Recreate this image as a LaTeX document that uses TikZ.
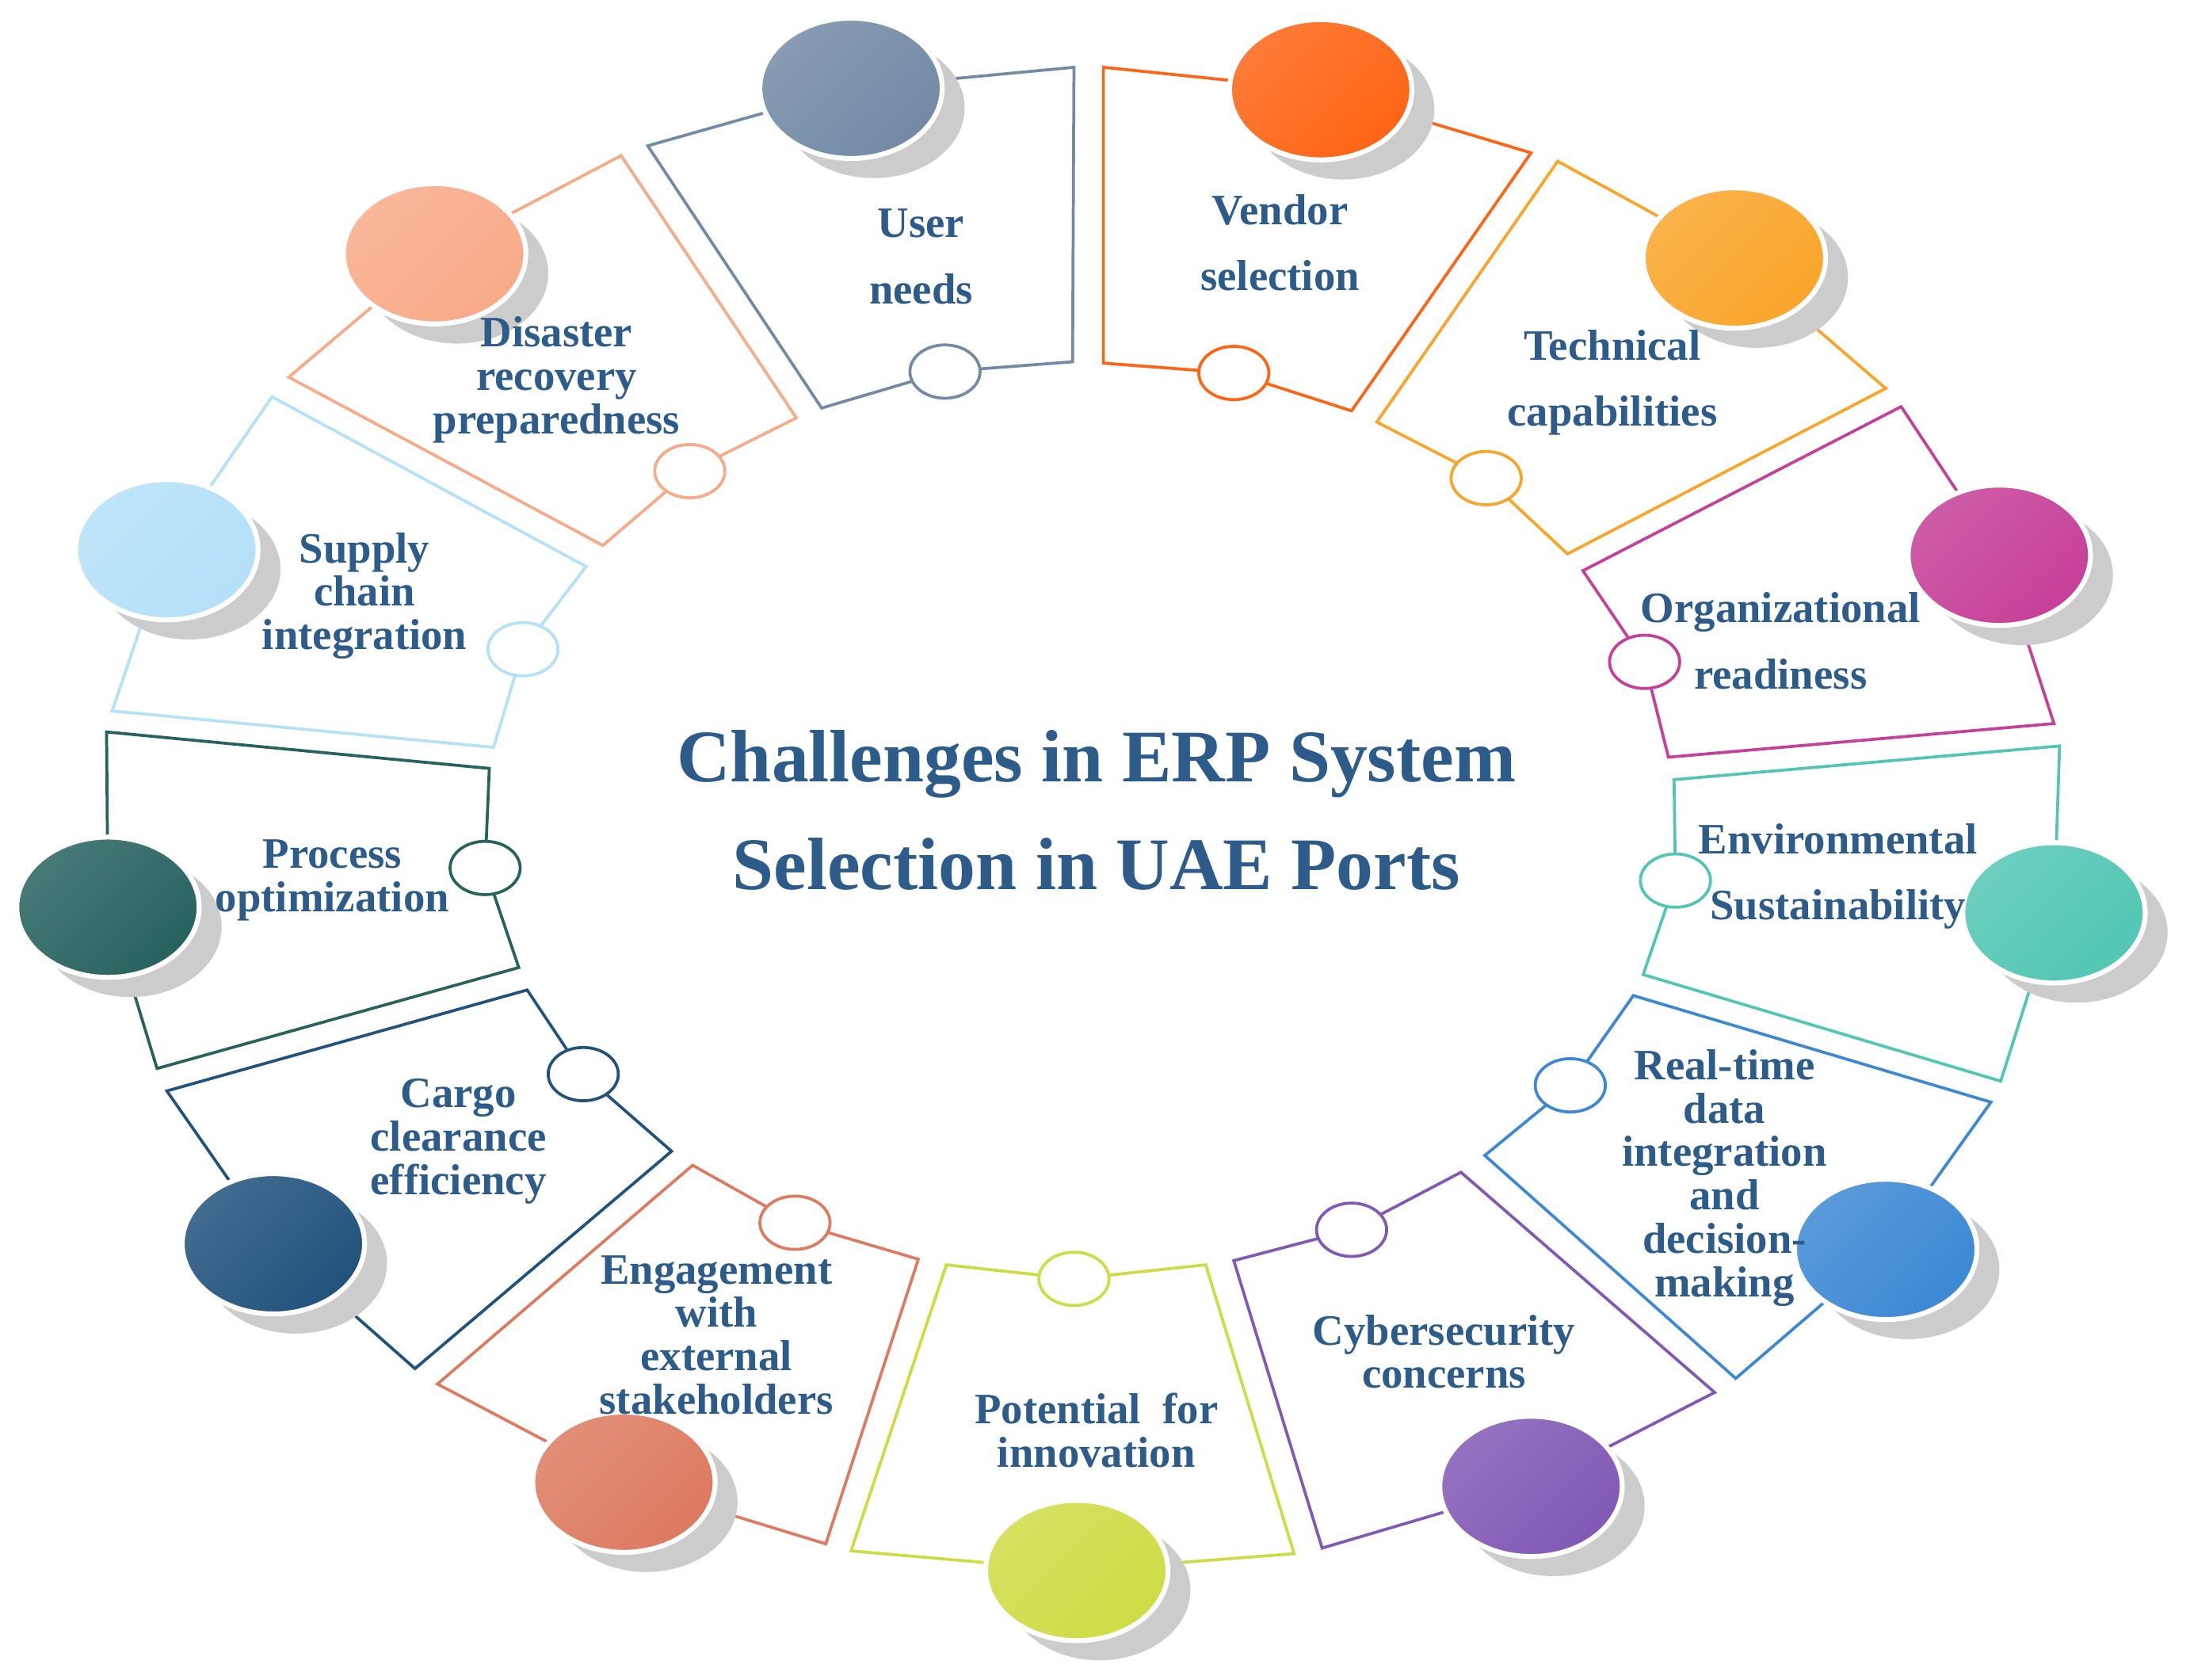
\documentclass[tikz,border=0pt]{standalone}
\usepackage{fontspec}
\setmainfont{Liberation Serif}
\usetikzlibrary{positioning,shapes.geometric,shadows,backgrounds}
\definecolor{txtc}{HTML}{2E5C8A}
\definecolor{userc}{HTML}{728AA5}
\definecolor{vendorc}{HTML}{FF6414}
\definecolor{techc}{HTML}{FAA52A}
\definecolor{orgc}{HTML}{C63F98}
\definecolor{envc}{HTML}{52C6B4}
\definecolor{realc}{HTML}{3C88D4}
\definecolor{cyberc}{HTML}{8159B5}
\definecolor{potc}{HTML}{CEDC44}
\definecolor{engc}{HTML}{DD7A60}
\definecolor{cargoc}{HTML}{21527C}
\definecolor{procc}{HTML}{27625F}
\definecolor{supplyc}{HTML}{B4E0F8}
\definecolor{disc}{HTML}{F8AA88}

\begin{document}
\begin{tikzpicture}[x=0.01cm,y=-0.01cm,
    segline/.style={draw=#1,line width=0.6pt},
    bigdot/.style={ellipse,minimum width=1.3cm,minimum height=1cm,inner sep=0pt,
      draw=white,line width=1pt,top color=#1!85!white,bottom color=#1,shading angle=45,
      drop shadow={shadow xshift=0.16cm,shadow yshift=-0.14cm,fill=black!20,opacity=1}},
    smalldot/.style={ellipse,minimum width=0.5cm,minimum height=0.38cm,inner sep=0pt,
      draw=#1,line width=0.6pt,fill=white},
    lbl/.style={text=txtc,font=\fontsize{8.8}{8.8}\selectfont\bfseries,align=center}]
  \useasboundingbox (0,0) rectangle (1562,1198);
  % one card per challenge: inner side a-dot-b, outer side c-big-d
  \foreach \n/\col/\pa/\ps/\pb/\pc/\pl/\pd/\txt/\tpos in {
    user/userc/{(765,258)}/{(674,265)}/{(586,291)}/{(462,104)}/{(607,63)}/{(766,48)}/{User\\[4.6pt]needs}/{(657,183)},
    vendor/vendorc/{(787,259)}/{(880,266)}/{(964,293)}/{(1092,109)}/{(942,64)}/{(787,48)}/{Vendor\\[4.6pt]selection}/{(913,173)},
    tech/techc/{(982,301)}/{(1060,341)}/{(1118,395)}/{(1345,277)}/{(1237,184)}/{(1111,115)}/{Technical\\[4.6pt]capabilities}/{(1150,273)},
    org/orgc/{(1129,407)}/{(1173,472)}/{(1190,540)}/{(1465,516)}/{(1426,396)}/{(1356,290)}/{Organizational\\[4.6pt]readiness}/{(1270,457)},
    env/envc/{(1194,556)}/{(1195,628)}/{(1172,695)}/{(1427,771)}/{(1465,651)}/{(1469,532)}/{Environmental\\[4.6pt]Sustainability}/{(1311,625)},
    real/realc/{(1165,710)}/{(1120,774)}/{(1059,824)}/{(1238,983)}/{(1345,891)}/{(1420,786)}/{Real-time\\data\\integration\\and\\decision-\\making}/{(1230,840)},
    cyber/cyberc/{(1042,836)}/{(964,877)}/{(880,899)}/{(943,1104)}/{(1092,1060)}/{(1223,993)}/{Cybersecurity\\concerns}/{(1030,964)},
    pot/potc/{(860,902)}/{(766,912)}/{(675,902)}/{(607,1106)}/{(768,1120)}/{(923,1108)}/{Potential\ \ for\\innovation}/{(782,1020)},
    eng/engc/{(655,898)}/{(567,872)}/{(494,831)}/{(312,987)}/{(445,1057)}/{(589,1101)}/{Engagement\\with\\external\\stakeholders}/{(511,952)},
    cargo/cargoc/{(479,821)}/{(416,766)}/{(376,706)}/{(119,778)}/{(195,887)}/{(296,976)}/{Cargo\\clearance\\efficiency}/{(327,814)},
    proc/procc/{(370,690)}/{(346,619)}/{(349,548)}/{(76,522)}/{(77,647)}/{(112,762)}/{Process\\optimization}/{(237,628)},
    supply/supplyc/{(352,533)}/{(373,463)}/{(418,404)}/{(194,283)}/{(119,392)}/{(80,507)}/{Supply\\chain\\integration}/{(260,425)},
    dis/disc/{(430,389)}/{(492,336)}/{(568,298)}/{(443,111)}/{(310,181)}/{(206,269)}/{Disaster\\recovery\\preparedness}/{(397,271)}}{
    \path \pa coordinate (\n-a) \pb coordinate (\n-b) \pc coordinate (\n-c) \pd coordinate (\n-d);
    \path \pl node[bigdot=\col] (\n-big) {};
    \path \ps node[smalldot=\col] (\n-dot) {};
    \path \tpos node[lbl] (\n-lbl) {\txt};
    \begin{scope}[on background layer]
      \draw[segline=\col] (\n-a) -- (\n-dot.center) -- (\n-b) -- (\n-c) -- (\n-big.center) -- (\n-d) -- cycle;
    \end{scope}
  }
  \node[text=txtc,font=\fontsize{15.05}{21.9}\selectfont\bfseries,align=center] (title) at (782,578)
    {Challenges in ERP System\\Selection in UAE Ports};
\end{tikzpicture}
\end{document}
